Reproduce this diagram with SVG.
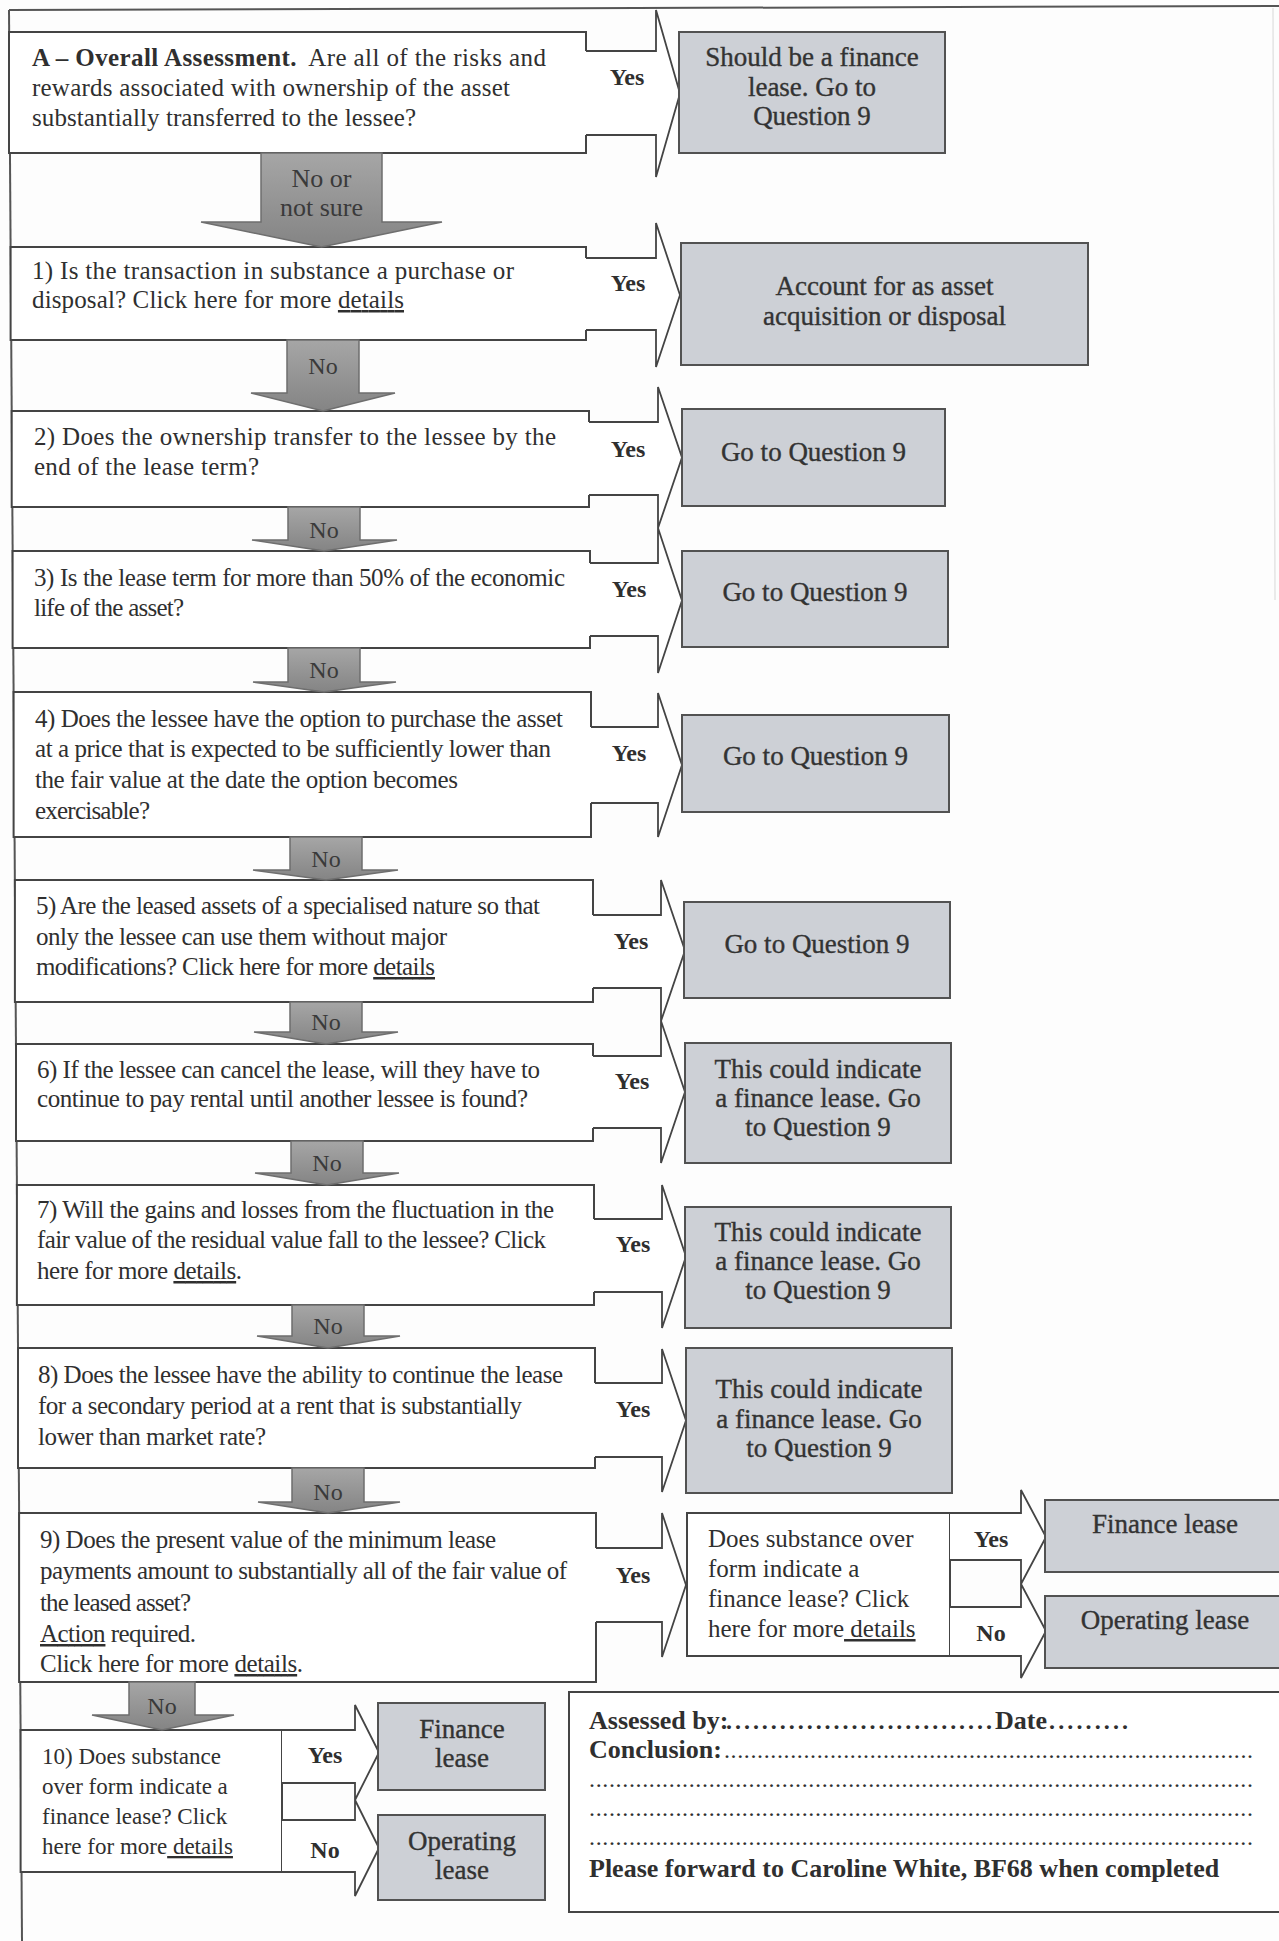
<svg xmlns="http://www.w3.org/2000/svg" width="1279" height="1941" viewBox="0 0 1279 1941">
<defs>
<linearGradient id="g" x1="0" y1="0" x2="0" y2="1"><stop offset="0" stop-color="#a6a6a6"/><stop offset="1" stop-color="#848484"/></linearGradient>
<style>
text{font-family:"Liberation Serif","Times New Roman",serif;fill:#2f2f2f}
.q{font-size:25px}
.b{font-weight:bold}
.u{text-decoration:underline}
.r{font-size:27px;text-anchor:middle;fill:#333;stroke:#333;stroke-width:0.35}
.y{font-size:24px;font-weight:bold;text-anchor:middle}
.n{font-size:24px;text-anchor:middle;fill:#3a3a3a}
.n2{font-size:26px;text-anchor:middle;fill:#3a3a3a}
.s{font-size:25px}
.t{font-size:23px}
.box{fill:#fff;stroke:#444;stroke-width:2}
.res{fill:#cdd0d6;stroke:#525252;stroke-width:2}
.arr{fill:#fff;stroke:#444;stroke-width:1.8;stroke-linejoin:miter}
.dn{fill:url(#g);stroke:#6e6e6e;stroke-width:1.5}
.fr{stroke:#555;stroke-width:2;fill:none}
.sig{font-size:26px;font-weight:bold}
.dot{font-size:24px}
</style>
</defs>
<rect x="0" y="0" width="1279" height="1941" fill="#fdfdfd"/>
<g id="frame">
<line class="fr" x1="9" y1="10" x2="1279" y2="6"/>
<line class="fr" x1="9" y1="10" x2="22" y2="1941"/>
<line x1="1273" y1="8" x2="1275" y2="600" stroke="#e4e4e4" stroke-width="1.5"/>
</g>
<g id="qA">
<path class="box" d="M586,51 V32 H9 V153 H586 V135"/>
<text class="q" x="32" y="66" textLength="514" lengthAdjust="spacing"><tspan class="b">A – Overall Assessment.</tspan><tspan dx="6"> Are all of the risks and</tspan></text>
<text class="q" x="32" y="96" textLength="478" lengthAdjust="spacing">rewards associated with ownership of the asset</text>
<text class="q" x="32" y="126" textLength="384" lengthAdjust="spacing">substantially transferred to the lessee?</text>
</g>
<g id="q1">
<path class="box" d="M586,258 V247 H10.6 V340 H586 V330"/>
<text class="q" x="32" y="279" textLength="482" lengthAdjust="spacing">1) Is the transaction in substance a purchase or</text>
<text class="q" x="32" y="308" textLength="372" lengthAdjust="spacing">disposal? Click here for more <tspan class="u">details</tspan></text>
</g>
<g id="q2">
<path class="box" d="M589,422 V411 H11.7 V507 H589 V495"/>
<text class="q" x="34" y="445" textLength="522" lengthAdjust="spacing">2) Does the ownership transfer to the lessee by the</text>
<text class="q" x="34" y="475" textLength="225" lengthAdjust="spacing">end of the lease term?</text>
</g>
<g id="q3">
<path class="box" d="M590,563 V551 H12.6 V648 H590 V636"/>
<text class="q" x="34" y="586" textLength="531" lengthAdjust="spacing">3) Is the lease term for more than 50% of the economic</text>
<text class="q" x="34" y="616" textLength="150" lengthAdjust="spacing">life of the asset?</text>
</g>
<g id="q4">
<path class="box" d="M591,727 V692 H13.6 V837 H591 V803"/>
<text class="q" x="35" y="727" textLength="528" lengthAdjust="spacing">4) Does the lessee have the option to purchase the asset</text>
<text class="q" x="35" y="757" textLength="516" lengthAdjust="spacing">at a price that is expected to be sufficiently lower than</text>
<text class="q" x="35" y="788" textLength="423" lengthAdjust="spacing">the fair value at the date the option becomes</text>
<text class="q" x="35" y="819" textLength="115" lengthAdjust="spacing">exercisable?</text>
</g>
<g id="q5">
<path class="box" d="M593,915 V880 H14.9 V1002 H593 V988"/>
<text class="q" x="36" y="914" textLength="504" lengthAdjust="spacing">5) Are the leased assets of a specialised nature so that</text>
<text class="q" x="36" y="945" textLength="411" lengthAdjust="spacing">only the lessee can use them without major</text>
<text class="q" x="36" y="975" textLength="399" lengthAdjust="spacing">modifications? Click here for more <tspan class="u">details</tspan></text>
</g>
<g id="q6">
<path class="box" d="M593,1056 V1044 H16 V1141 H593 V1128"/>
<text class="q" x="37" y="1078" textLength="503" lengthAdjust="spacing">6) If the lessee can cancel the lease, will they have to</text>
<text class="q" x="37" y="1107" textLength="491" lengthAdjust="spacing">continue to pay rental until another lessee is found?</text>
</g>
<g id="q7">
<path class="box" d="M594,1219 V1185 H16.9 V1305 H594 V1292"/>
<text class="q" x="37" y="1218" textLength="517" lengthAdjust="spacing">7) Will the gains and losses from the fluctuation in the</text>
<text class="q" x="37" y="1248" textLength="509" lengthAdjust="spacing">fair value of the residual value fall to the lessee? Click</text>
<text class="q" x="37" y="1279" textLength="205" lengthAdjust="spacing">here for more <tspan class="u">details</tspan>.</text>
</g>
<g id="q8">
<path class="box" d="M595,1383 V1348 H18 V1468 H595 V1457"/>
<text class="q" x="38" y="1383" textLength="525" lengthAdjust="spacing">8) Does the lessee have the ability to continue the lease</text>
<text class="q" x="38" y="1414" textLength="484" lengthAdjust="spacing">for a secondary period at a rent that is substantially</text>
<text class="q" x="38" y="1445" textLength="228" lengthAdjust="spacing">lower than market rate?</text>
</g>
<g id="q9">
<path class="box" d="M596,1548 V1513 H19.1 V1682 H596 V1622"/>
<text class="q" x="40" y="1548" textLength="456" lengthAdjust="spacing">9) Does the present value of the minimum lease</text>
<text class="q" x="40" y="1579" textLength="527" lengthAdjust="spacing">payments amount to substantially all of the fair value of</text>
<text class="q" x="40" y="1611" textLength="151" lengthAdjust="spacing">the leased asset?</text>
<text class="q" x="40" y="1642" textLength="156" lengthAdjust="spacing"><tspan class="u">Action</tspan> required.</text>
<text class="q" x="40" y="1672" textLength="263" lengthAdjust="spacing">Click here for more <tspan class="u">details</tspan>.</text>
</g>
<g id="q9b">
<rect class="box" x="687" y="1513" width="263" height="143"/>
<text class="s" x="708" y="1547">Does substance over</text>
<text class="s" x="708" y="1577">form indicate a</text>
<text class="s" x="708" y="1607">finance lease? Click</text>
<text class="s" x="708" y="1637">here for more<tspan class="u"> details</tspan></text>
</g>
<g id="q10">
<rect class="box" x="20.6" y="1730" width="261.4" height="142"/>
<text class="t" x="42" y="1764">10) Does substance</text>
<text class="t" x="42" y="1794">over form indicate a</text>
<text class="t" x="42" y="1824">finance lease? Click</text>
<text class="t" x="42" y="1854">here for more<tspan class="u"> details</tspan></text>
</g>
<g id="connectors">
<path class="arr" d="M586,51 H656 V10 L680,93.5 L656,177 V135 H586"/>
<path class="arr" d="M586,258 H656 V223 L680,295 L656,367 V330 H586"/>
<path class="arr" d="M589,422 H658 V387 L682,457.5 L658,528 V495 H589"/>
<path class="arr" d="M590,563 H658 V528 L682,600.5 L658,673 V636 H590"/>
<path class="arr" d="M591,727 H658 V693 L682,765 L658,837 V803 H591"/>
<path class="arr" d="M593,915 H661 V880 L685,950.5 L661,1021 V988 H593"/>
<path class="arr" d="M593,1056 H661 V1021 L685,1092 L661,1163 V1128 H593"/>
<path class="arr" d="M594,1219 H662 V1185 L686,1256.5 L662,1328 V1292 H594"/>
<path class="arr" d="M595,1383 H662 V1349 L686,1420.5 L662,1492 V1457 H595"/>
<path class="arr" d="M596,1548 H662 V1513 L686,1585 L662,1657 V1622 H596"/>
<path class="arr" d="M950,1513 H1021 V1490 L1046,1537 L1021,1584 V1560 H950"/>
<path class="arr" d="M950,1607 H1021 V1584 L1046,1631 L1021,1678 V1656 H950"/>
<path class="arr" d="M282,1730 H355 V1705 L379,1752.5 L355,1800 V1783 H282"/>
<path class="arr" d="M282,1820 H355 V1800 L379,1848 L355,1896 V1872 H282"/>
<text class="y" x="627" y="85">Yes</text>
<text class="y" x="628" y="291">Yes</text>
<text class="y" x="628" y="457">Yes</text>
<text class="y" x="629" y="597">Yes</text>
<text class="y" x="629" y="761">Yes</text>
<text class="y" x="631" y="949">Yes</text>
<text class="y" x="632" y="1089">Yes</text>
<text class="y" x="633" y="1252">Yes</text>
<text class="y" x="633" y="1417">Yes</text>
<text class="y" x="633" y="1583">Yes</text>
<text class="y" x="991" y="1547">Yes</text>
<text class="y" x="991" y="1641">No</text>
<text class="y" x="325" y="1763">Yes</text>
<text class="y" x="325" y="1858">No</text>
<polygon class="dn" points="261,153 382,153 382,222 442,222 321.5,247 201,222 261,222"/>
<polygon class="dn" points="287,340 359,340 359,393 395,393 323,411 251,393 287,393"/>
<polygon class="dn" points="288,507 360,507 360,540 397,540 324,551 252,540 288,540"/>
<polygon class="dn" points="288,648 360,648 360,682 396,682 324,692 253,682 288,682"/>
<polygon class="dn" points="290,837 362,837 362,870 398,870 326,880 253,870 290,870"/>
<polygon class="dn" points="290,1002 362,1002 362,1032 398,1032 326,1044 254,1032 290,1032"/>
<polygon class="dn" points="291,1141 363,1141 363,1173 399,1173 327,1185 255,1173 291,1173"/>
<polygon class="dn" points="292,1305 364,1305 364,1336 400,1336 328,1348 257,1336 292,1336"/>
<polygon class="dn" points="292,1468 364,1468 364,1502 400,1502 328,1513 258,1502 292,1502"/>
<polygon class="dn" points="129,1682 195,1682 195,1715 234,1715 162,1730 92,1715 129,1715"/>
<text class="n2" x="321.5" y="187">No or</text>
<text class="n2" x="321.5" y="216">not sure</text>
<text class="n" x="323" y="374">No</text>
<text class="n" x="324" y="538">No</text>
<text class="n" x="324" y="678">No</text>
<text class="n" x="326" y="867">No</text>
<text class="n" x="326" y="1030">No</text>
<text class="n" x="327" y="1171">No</text>
<text class="n" x="328" y="1334">No</text>
<text class="n" x="328" y="1500">No</text>
<text class="n" x="162" y="1714">No</text>
</g>
<g id="rA">
<rect class="res" x="679" y="32" width="266" height="121"/>
<text class="r" x="812" y="66">Should be a finance</text>
<text class="r" x="812" y="96">lease. Go to</text>
<text class="r" x="812" y="125">Question 9</text>
</g>
<g id="r1">
<rect class="res" x="681" y="243" width="407" height="122"/>
<text class="r" x="884.5" y="295">Account for as asset</text>
<text class="r" x="884.5" y="325">acquisition or disposal</text>
</g>
<g id="r2">
<rect class="res" x="682" y="409" width="263" height="97"/>
<text class="r" x="813.5" y="461">Go to Question 9</text>
</g>
<g id="r3">
<rect class="res" x="682" y="551" width="266" height="96"/>
<text class="r" x="815" y="601">Go to Question 9</text>
</g>
<g id="r4">
<rect class="res" x="682" y="715" width="267" height="97"/>
<text class="r" x="815.5" y="765">Go to Question 9</text>
</g>
<g id="r5">
<rect class="res" x="684" y="902" width="266" height="96"/>
<text class="r" x="817" y="953">Go to Question 9</text>
</g>
<g id="r6">
<rect class="res" x="685" y="1043" width="266" height="120"/>
<text class="r" x="818" y="1078">This could indicate</text>
<text class="r" x="818" y="1107">a finance lease. Go</text>
<text class="r" x="818" y="1136">to Question 9</text>
</g>
<g id="r7">
<rect class="res" x="685" y="1207" width="266" height="121"/>
<text class="r" x="818" y="1241">This could indicate</text>
<text class="r" x="818" y="1270">a finance lease. Go</text>
<text class="r" x="818" y="1299">to Question 9</text>
</g>
<g id="r8">
<rect class="res" x="686" y="1348" width="266" height="145"/>
<text class="r" x="819" y="1398">This could indicate</text>
<text class="r" x="819" y="1428">a finance lease. Go</text>
<text class="r" x="819" y="1457">to Question 9</text>
</g>
<g id="r9yes">
<rect class="res" x="1045" y="1500" width="250" height="72"/>
<text class="r" x="1165" y="1533">Finance lease</text>
</g>
<g id="r9no">
<rect class="res" x="1045" y="1596" width="250" height="72"/>
<text class="r" x="1165" y="1629">Operating lease</text>
</g>
<g id="r10yes">
<rect class="res" x="378" y="1703" width="167" height="87"/>
<text class="r" x="462" y="1738">Finance</text>
<text class="r" x="462" y="1767">lease</text>
</g>
<g id="r10no">
<rect class="res" x="378" y="1815" width="167" height="85"/>
<text class="r" x="462" y="1850">Operating</text>
<text class="r" x="462" y="1879">lease</text>
</g>
<g id="signoff">
<rect class="box" x="569" y="1692" width="725" height="220"/>
<text class="sig" x="589" y="1729">Assessed by:</text>
<text class="sig dot" x="726" y="1729" textLength="266" lengthAdjust="spacing">..............................</text>
<text class="sig" x="995" y="1729">Date</text>
<text class="sig dot" x="1049" y="1729" textLength="79" lengthAdjust="spacing">.........</text>
<text class="sig" x="589" y="1758">Conclusion:</text>
<text class="dot" x="724" y="1758" textLength="529" lengthAdjust="spacing">................................................................................</text>
<text class="dot" x="589" y="1787" textLength="664" lengthAdjust="spacing">....................................................................................................</text>
<text class="dot" x="589" y="1816" textLength="664" lengthAdjust="spacing">....................................................................................................</text>
<text class="dot" x="589" y="1845" textLength="664" lengthAdjust="spacing">....................................................................................................</text>
<text class="sig" x="589" y="1877">Please forward to Caroline White, BF68 when completed</text>
</g>
</svg>
